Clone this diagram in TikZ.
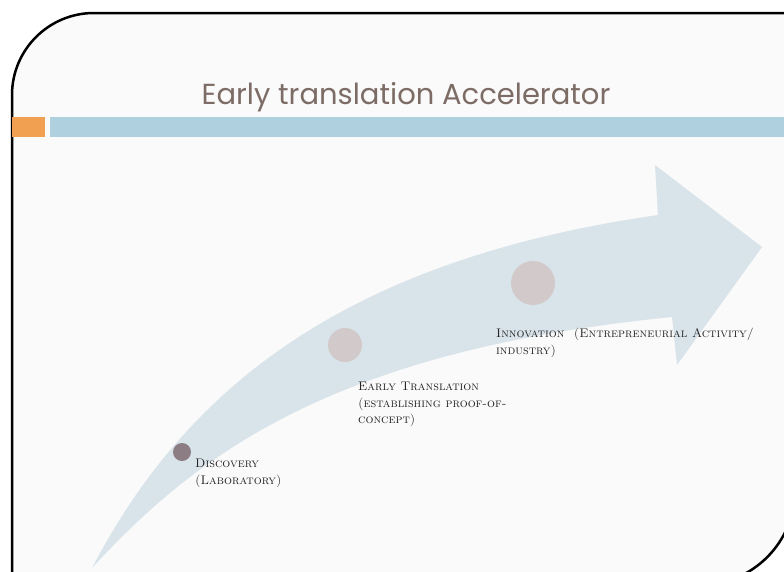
\documentclass[tikz,border=0pt]{standalone}
\usepackage{fontspec}
\usepackage{xcolor}
\usepackage{tikz}
\usetikzlibrary{positioning}
\newfontfamily\titlefont{Poppins}
\definecolor{framebg}{RGB}{250,250,250}
\definecolor{titlegray}{RGB}{125,108,102}
\definecolor{barorange}{RGB}{240,160,80}
\definecolor{barblue}{RGB}{174,208,223}
\definecolor{arrowfill}{RGB}{217,227,234}
\definecolor{dotdark}{RGB}{140,124,132}
\definecolor{dotlight}{RGB}{210,202,202}
\definecolor{labelgray}{RGB}{35,35,35}
\tikzset{
  stage dot/.style={circle, inner sep=0pt},
  stage label/.style={anchor=north west, align=left, inner sep=0pt,
    text=labelgray, font=\fontsize{12.5}{16.5}\selectfont\scshape}
}

\begin{document}
\begin{tikzpicture}[x=1pt, y=-1pt]

\useasboundingbox (0,0) rectangle (784,571);
\clip (0,0) rectangle (784,571);
\fill[white] (0,0) rectangle (784,571);

% Frame
\draw[line width=2.5pt, fill=framebg] (12,585) -- (12,95)
  arc[start angle=180, end angle=270, radius=82] -- (795,13) -- (795,490)
  arc[start angle=0, end angle=90, radius=95] -- cycle;

% Title
\node[text=titlegray, font=\titlefont\fontsize{29}{34}\selectfont] (title) at (406,97)
  {Early translation Accelerator};

% Bars
\fill[barorange] (12,117) rectangle (45,137);
\fill[barblue] (50,117) rectangle (784,137);

% Arrow
\fill[arrowfill] (92,568) .. controls (180,400) and (330,262) .. (658,215)
  -- (655,165) -- (762,247) -- (677,365) -- (672,317)
  .. controls (340,350) and (200,450) .. (92,568) -- cycle;

% Stages
\foreach \n/\cx/\cy/\rad/\col in {disc/182/452/9/dotdark,
  early/345/345/17/dotlight, innov/533/283/22/dotlight}
{
  \node[stage dot,
    minimum size=2*\rad pt,
    fill=\col] (\n) at (\cx,\cy) {};
}

% Labels
\node[stage label] (disc-label) at (195,459) {Discovery\\(Laboratory)};
\node[stage label] (early-label) at (358,382)
  {Early Translation\\(establishing proof-of-\\concept)};
\node[stage label] (innov-label) at (496,328)
  {Innovation\ \ (Entrepreneurial Activity/\\industry)};

\end{tikzpicture}
\end{document}
